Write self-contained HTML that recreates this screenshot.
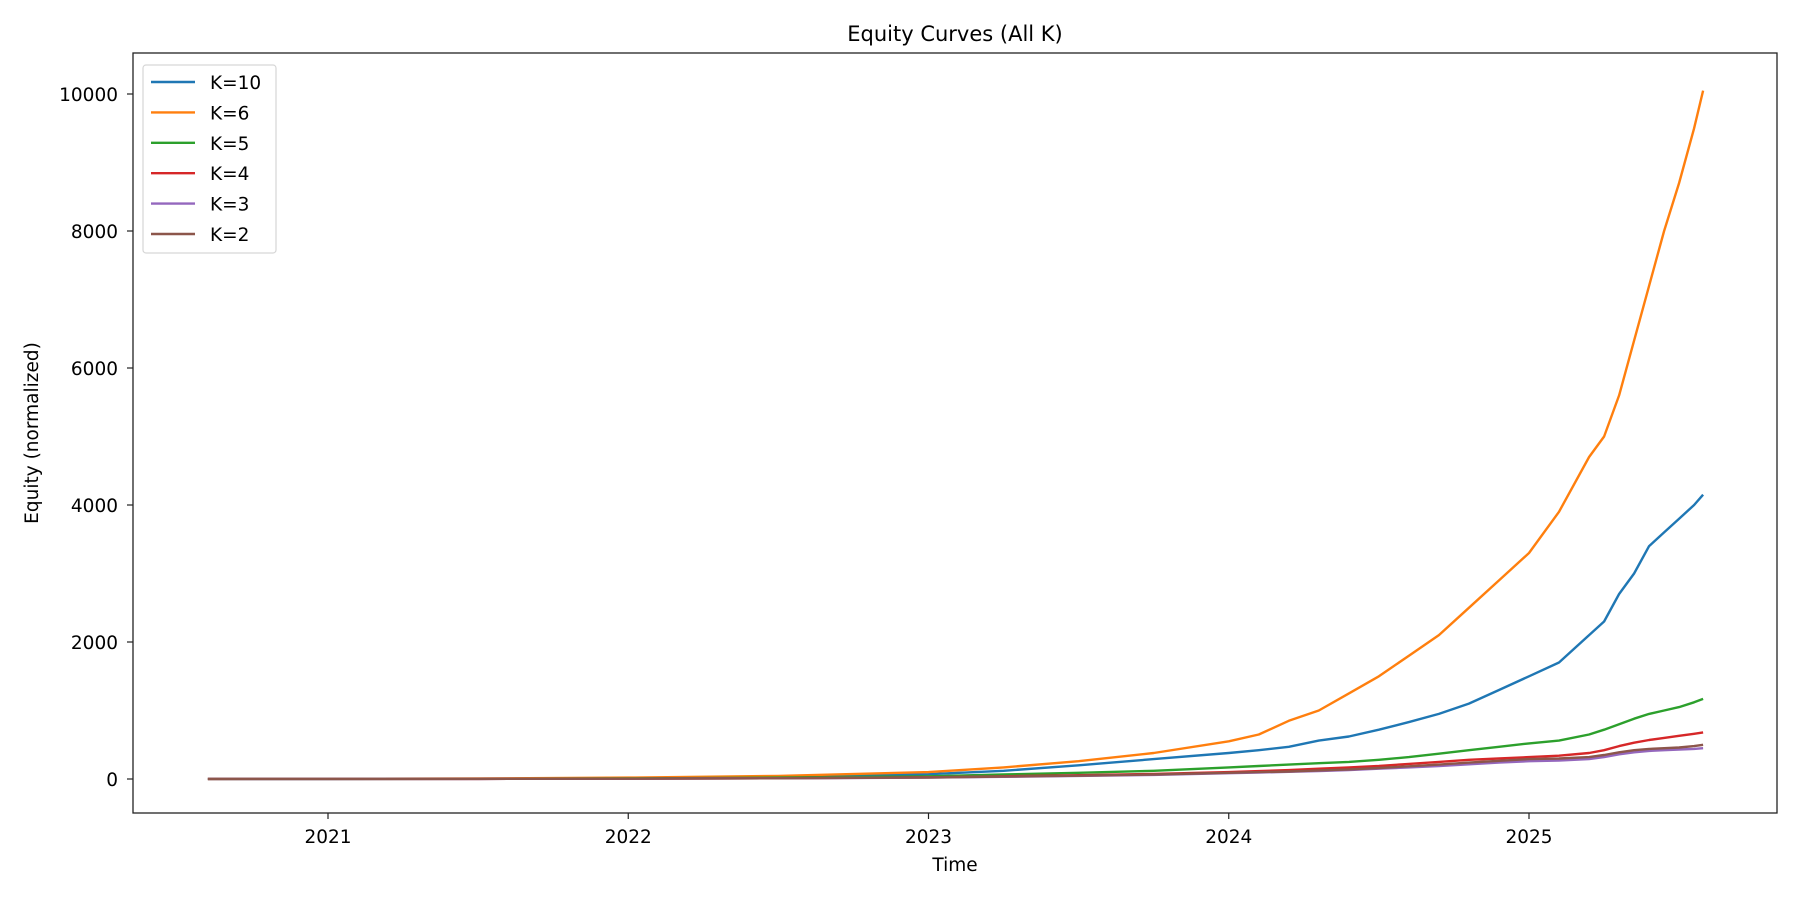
<!DOCTYPE html>
<html><head><meta charset="utf-8"><style>
html,body{margin:0;padding:0;background:#fff;}
svg{display:block;font-family:"DejaVu Sans","Liberation Sans",sans-serif;}
</style></head><body>
<svg id="chart" width="1800" height="900" viewBox="0 0 1800 900">
<rect width="1800" height="900" fill="#fff"/>
<text x="955" y="41" font-size="21" text-anchor="middle">Equity Curves (All K)</text>
<g id="plot"></g>
<g id="xaxis"></g>
<g id="yaxis"></g>
<rect x="133" y="53" width="1644" height="760" fill="none" stroke="#222" stroke-width="1.3"/>
<text x="955" y="871" font-size="18.5" text-anchor="middle">Time</text>
<text transform="translate(38,433) rotate(-90)" font-size="18.5" text-anchor="middle">Equity (normalized)</text>
<g id="legend"></g>
</svg>
<script>
const times=[2020.6,2021,2021.5,2022,2022.5,2023,2023.25,2023.5,2023.75,2024,2024.1,2024.2,2024.3,2024.4,2024.5,2024.6,2024.7,2024.8,2024.9,2025,2025.1,2025.2,2025.25,2025.3,2025.35,2025.4,2025.45,2025.5,2025.55,2025.58];
const seriesNames=["K=10","K=6","K=5","K=4","K=3","K=2"];
const k10=[1,2,5,12,30,70,120,200,290,380,420,470,560,620,720,830,950,1100,1300,1500,1700,2100,2300,2700,3000,3400,3600,3800,4000,4150];
const k6=[1,3,8,20,45,100,170,260,380,550,650,850,1000,1250,1500,1800,2100,2500,2900,3300,3900,4700,5000,5600,6400,7200,8000,8700,9500,10050];
const k5=[1,1,3,8,20,40,65,90,120,170,190,210,230,250,280,320,370,420,470,520,560,650,720,800,880,950,1000,1050,1120,1170];
const k4=[1,1,2,5,12,25,40,55,75,100,115,130,150,170,190,220,250,280,300,320,340,380,420,480,530,570,600,630,660,680];
const k3=[1,1,2,4,10,20,32,45,60,85,95,105,115,130,150,170,190,215,240,260,270,290,320,360,390,410,420,430,440,450];
const k2=[1,1,2,4,10,22,35,48,65,90,100,110,125,140,160,185,210,240,265,290,300,320,350,390,420,440,450,460,480,500];
const xTicks=[2021,2022,2023,2024,2025];
const yTicks=[0,2000,4000,6000,8000,10000];
const colors=["#1f77b4","#ff7f0e","#2ca02c","#d62728","#9467bd","#8c564b"];
const NS="http://www.w3.org/2000/svg";
function x(t){return 328+(t-2021)*300.25;}
function y(v){return 779-v*0.0685;}
function mk(tag,attrs,parent){const e=document.createElementNS(NS,tag);for(const k in attrs)e.setAttribute(k,attrs[k]);parent.appendChild(e);return e;}
const plot=document.getElementById('plot'),xa=document.getElementById('xaxis'),ya=document.getElementById('yaxis'),lg=document.getElementById('legend');
const all=[k10,k6,k5,k4,k3,k2];
[0,1,2,3,4,5].forEach(i=>{
  const d=all[i].map((v,j)=>(j?'L':'M')+x(times[j]).toFixed(1)+','+y(v).toFixed(1)).join('');
  const p=mk('path',{d:d,fill:'none',stroke:colors[i],'stroke-width':2.4,'stroke-linejoin':'round'},plot);
  
  
});
xTicks.forEach(t=>{
  const g=mk('g',{},xa);
  
  
  mk('line',{x1:x(t),x2:x(t),y1:813,y2:819,stroke:'#222','stroke-width':1.2},g);
  const tx=mk('text',{x:x(t),y:843,'font-size':18.5,'text-anchor':'middle'},g);tx.textContent=t;
});
yTicks.forEach(v=>{
  const g=mk('g',{},ya);
  
  
  mk('line',{x1:127,x2:133,y1:y(v),y2:y(v),stroke:'#222','stroke-width':1.2},g);
  const tx=mk('text',{x:118,y:y(v)+7,'font-size':18.5,'text-anchor':'end'},g);tx.textContent=v;
});
mk('rect',{x:143,y:65,width:133,height:188,rx:3,fill:'#fff',stroke:'#d6d6d6','stroke-width':1.2},lg);
seriesNames.forEach((n,i)=>{
  const yy=82+i*30.4;
  const g=mk('g',{},lg);
  
  
  mk('line',{x1:151,x2:195,y1:yy,y2:yy,stroke:colors[i],'stroke-width':2.4},g);
  const tx=mk('text',{x:210,y:yy+7,'font-size':18.5},g);tx.textContent=n;
});
</script>
</body></html>
